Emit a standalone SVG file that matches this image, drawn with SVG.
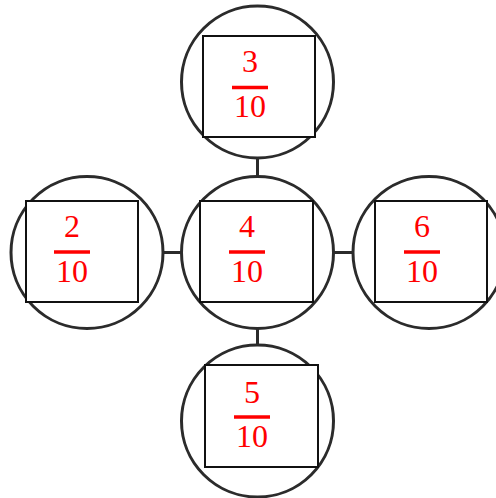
<svg xmlns="http://www.w3.org/2000/svg" width="496" height="498" viewBox="0 0 496 498">
<style>
.c{fill:none;stroke:#2b2b2b;stroke-width:3}
.b{fill:#fff;stroke:#111;stroke-width:2}
.t{font-family:"Liberation Serif","DejaVu Serif",serif;font-size:32px;fill:#ff0000;text-anchor:middle}
.bar{stroke:#ff0000;stroke-width:3.5}
.l{stroke:#2b2b2b;stroke-width:3}
</style>
<rect width="496" height="498" fill="#fff"/>
<g id="connectors">
<line class="l" x1="257.5" y1="158" x2="257.5" y2="177"/>
<line class="l" x1="257.5" y1="328" x2="257.5" y2="345"/>
<line class="l" x1="163" y1="252.5" x2="181" y2="252.5"/>
<line class="l" x1="334" y1="252.5" x2="353" y2="252.5"/>
</g>
<g id="top">
<circle class="c" cx="257.5" cy="82" r="76"/>
<rect class="b" x="203" y="36" width="112" height="101"/>
<text class="t" x="250" y="72">3</text>
<line class="bar" x1="232" y1="87.5" x2="268" y2="87.5"/>
<text class="t" x="250" y="117">10</text>
</g>
<g id="center">
<circle class="c" cx="257.5" cy="252.5" r="76"/>
<rect class="b" x="200" y="201" width="113" height="101"/>
<text class="t" x="247" y="237">4</text>
<line class="bar" x1="229" y1="252" x2="265" y2="252"/>
<text class="t" x="247" y="282">10</text>
</g>
<g id="left">
<circle class="c" cx="87" cy="252.5" r="76"/>
<rect class="b" x="26" y="201" width="112" height="101"/>
<text class="t" x="72" y="237">2</text>
<line class="bar" x1="54" y1="252" x2="90" y2="252"/>
<text class="t" x="72" y="282">10</text>
</g>
<g id="right">
<circle class="c" cx="429" cy="252.5" r="76"/>
<rect class="b" x="375" y="201" width="112" height="101"/>
<text class="t" x="422" y="237">6</text>
<line class="bar" x1="404" y1="252" x2="440" y2="252"/>
<text class="t" x="422" y="282">10</text>
</g>
<g id="bottom">
<circle class="c" cx="257.5" cy="421" r="76"/>
<rect class="b" x="205" y="365" width="113" height="102"/>
<text class="t" x="252" y="403">5</text>
<line class="bar" x1="234" y1="417" x2="270" y2="417"/>
<text class="t" x="252" y="447">10</text>
</g>
</svg>
